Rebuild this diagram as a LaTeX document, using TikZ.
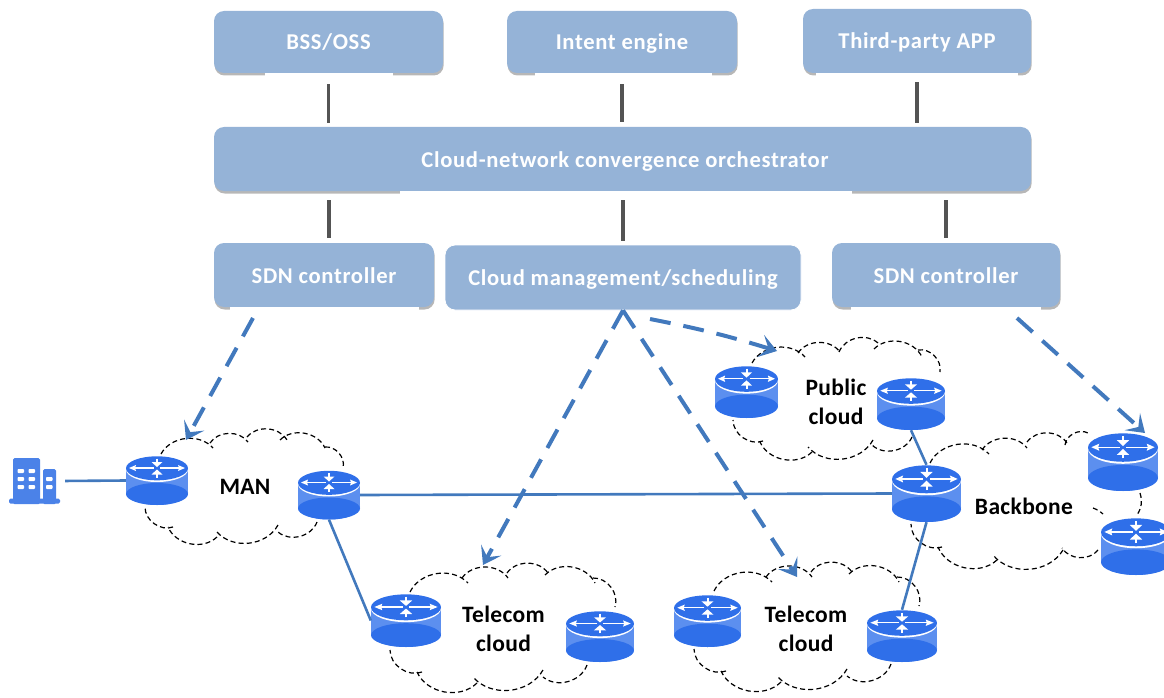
\documentclass[tikz,border=0pt]{standalone}
\usepackage{fontspec}
\newfontfamily\boxfont{Carlito}[LetterSpace=3.0]
\newfontfamily\lblfont{Carlito}[LetterSpace=1.5]
\usetikzlibrary{arrows.meta,shadows,calc}
\definecolor{boxblue}{HTML}{95B3D7}
\definecolor{linkblue}{HTML}{4279BD}
\definecolor{rtop}{HTML}{2F6FE9}
\definecolor{rside}{HTML}{5C8FEF}
\definecolor{bldg}{HTML}{4B82E8}
\tikzset{
  x=1pt,y=-1pt,
  panel/.style={draw=none,fill=boxblue,rounded corners=10pt,text=white,inner sep=0pt,text height=20pt,text depth=4pt,font=\boxfont\bfseries\fontsize{22.6}{24}\selectfont,
     drop shadow={shadow xshift=.6pt,shadow yshift=-2.5pt,opacity=.4,fill=black!70}},
  flatpanel/.style={draw=white,line width=.8pt,fill=boxblue,rounded corners=10pt,text=white,inner sep=0pt,text height=20pt,text depth=4pt,font=\boxfont\bfseries\fontsize{22.6}{24}\selectfont},
  strip/.style={fill=white},
  mgmtlink/.style={draw=black!67,line width=3.6pt},
  netlink/.style={draw=linkblue,line width=2.6pt},
  ctrl/.style={draw=linkblue,line width=4pt,dash pattern=on 21pt off 13pt,-{Stealth[length=17pt,width=23pt,inset=8pt]}},
  cloudline/.style={draw=black,line width=1.2pt,dash pattern=on 5pt off 3.2pt,bend left=#1},
  cloudline/.default=55,
  cloudlabel/.style={inner sep=0pt,align=center,font=\lblfont\bfseries\fontsize{23.5}{29}\selectfont},
  router/.style 2 args={inner sep=0pt,minimum width=#1pt,minimum height=#2pt,path picture={
    \begin{scope}[shift={(path picture bounding box.center)},x={#1/62*1pt},y={-#2/49*1pt}]
      \fill[rside] (-31,-12) rectangle (31,12);
      \fill[rside] (0,12) ellipse[x radius=31,y radius=12.5];
      \fill[rtop] (0,13.5) ellipse[x radius=31,y radius=11];
      \fill[white] (0,-11) ellipse[x radius=31,y radius=12.5];
      \fill[rtop] (0,-12.2) ellipse[x radius=31,y radius=12];
      \draw[white,line width=1.2pt] (-3,-12.5) -- (-25,-12.5);
      \fill[white] (-28,-12.5) -- (-21,-15.5) -- (-22,-12.5) -- (-21,-9.5) -- cycle;
      \draw[white,line width=1.2pt] (3,-12.5) -- (25,-12.5);
      \fill[white] (28,-12.5) -- (21,-15.5) -- (22,-12.5) -- (21,-9.5) -- cycle;
      \draw[white,line width=2pt] (0,-22) -- (0,-17);
      \fill[white] (0,-13.5) -- (-5.5,-18.5) -- (5.5,-18.5) -- cycle;
      \draw[white,line width=2pt] (0,-3) -- (0,-7.5);
      \fill[white] (0,-11) -- (-5.5,-6) -- (5.5,-6) -- cycle;
    \end{scope}}},
  building/.style={inner sep=0pt,minimum width=52pt,minimum height=46pt,path picture={
    \begin{scope}[shift={(path picture bounding box.center)}]
      \fill[bldg,rounded corners=1.5pt] (-22,23) -- (-22,-23) -- (5,-23) -- (5,23) -- cycle;
      \fill[bldg,rounded corners=1.5pt] (8,23) -- (8,-12) -- (21,-12) -- (21,23) -- cycle;
      \fill[bldg,rounded corners=1.5pt] (-26,17.5) rectangle (25,22.5);
      \foreach \cy in {-10,-2,6}{
        \fill[white,rounded corners=.8pt] (-17.5,\cy-2) rectangle (-11,\cy+2);
        \fill[white,rounded corners=.8pt] (-6.5,\cy-2) rectangle (0,\cy+2);
      }
      \foreach \cy in {-2,6}{
        \fill[white,rounded corners=.8pt] (11,\cy-2) rectangle (17.5,\cy+2);
      }
    \end{scope}}},
}
\newcommand{\telecomlobes}{%
  \draw[cloudline] (410,592) to (468,583);
  \draw[cloudline] (462,578) to (508,578);
  \draw[cloudline] (507,573) to (548,573);
  \draw[cloudline] (545,575) to (595,583);
  \draw[cloudline] (593,578) to (615,607);
  \draw[cloudline] (587,665) to (543,677);
  \draw[cloudline] (543,670) to (473,677);
  \draw[cloudline] (477,683) to (417,672);
  \draw[cloudline] (422,672) to (390,650);
}
\begin{document}
\begin{tikzpicture}
\useasboundingbox (0,0) rectangle (1164,698);
\clip (0,0) rectangle (1164,698);
% clouds
\draw[cloudline] (161,454) to (213,448);
\draw[cloudline] (210,443) to (248,442);
\draw[cloudline] (247,437) to (287,440);
\draw[cloudline] (280,440) to (325,448);
\draw[cloudline] (325,447) to (343,468);
\draw[cloudline] (317,522) to (278,532);
\draw[cloudline] (278,525) to (217,532);
\draw[cloudline] (217,537) to (168,527);
\draw[cloudline] (173,527) to (145,507);
\telecomlobes
\begin{scope}[shift={(304,-1)}]\telecomlobes\end{scope}
\draw[cloudline] (752,363) to (805,357);
\draw[cloudline] (798,353) to (840,352);
\draw[cloudline] (839,352) to (878,343);
\draw[cloudline] (874,349) to (922,357);
\draw[cloudline] (918,350) to (940,372);
\draw[cloudline] (912,437) to (872,445);
\draw[cloudline] (873,440) to (808,447);
\draw[cloudline] (812,452) to (760,442);
\draw[cloudline] (763,441) to (733,420);
\draw[cloudline] (930,463) to (989,454);
\draw[cloudline] (982,450) to (1027,448);
\draw[cloudline] (1027,442) to (1067,443);
\draw[cloudline] (1065,445) to (1088,433);
\draw[cloudline=25] (1140,493) to (1137,515);
\draw[cloudline=10] (1093,508) to (1103,514);
\draw[cloudline] (1098,550) to (1062,548);
\draw[cloudline] (1063,550) to (993,555);
\draw[cloudline] (997,560) to (938,547);
\draw[cloudline] (942,547) to (911,524);
% panels
\node[panel,minimum width=229pt,minimum height=62pt] (bss) at (328.5,42) {BSS/OSS};
\node[panel,minimum width=230pt,minimum height=62pt] (intent) at (622,42) {Intent engine};
\node[panel,minimum width=228pt,minimum height=64pt] (third) at (917,41) {Third-party APP};
\node[panel,minimum width=817pt,minimum height=64pt] (orch) at (622.5,159) {\hspace*{5pt}Cloud-network convergence orchestrator};
\node[panel,minimum width=220pt,minimum height=64pt] (sdnl) at (324,275) {SDN controller};
\node[flatpanel,minimum width=356pt,minimum height=65pt] (cloudm) at (623,277.5) {Cloud management/scheduling};
\node[panel,minimum width=228pt,minimum height=64pt] (sdnr) at (946,275) {SDN controller};
\fill[strip] (265,73) rectangle (393,79);
\fill[strip] (535,73) rectangle (712,79);
\fill[strip] (816,73) rectangle (1018,79);
\fill[strip] (400,191) rectangle (852,197);
\fill[strip] (230,307) rectangle (419,313);
\fill[strip] (851,307) rectangle (1041,313);
% management links
\draw[mgmtlink,shorten <=11pt,shorten >=4pt] (bss.south) -- (bss.south |- orch.north);
\draw[mgmtlink,shorten <=11pt,shorten >=5pt] (intent.south) -- (intent.south |- orch.north);
\draw[mgmtlink,shorten <=9pt,shorten >=4pt] (third.south) -- (third.south |- orch.north);
\draw[mgmtlink,shorten <=9pt,shorten >=5pt] ([xshift=5pt]sdnl.north |- orch.south) -- ([xshift=5pt]sdnl.north);
\draw[mgmtlink,shorten <=9pt,shorten >=4pt] (cloudm.north |- orch.south) -- (cloudm.north);
\draw[mgmtlink,shorten <=9pt,shorten >=5pt] (sdnr.north |- orch.south) -- (sdnr.north);
% routers
\node[router={62}{49}] (manl) at (157,480.5) {};
\node[router={62}{49}] (manr) at (329,495) {};
\node[router={70}{53}] (tal) at (406,620.5) {};
\node[router={68}{51}] (tar) at (600,636.5) {};
\node[router={67}{52}] (tbl) at (707.5,621) {};
\node[router={70}{52}] (tbr) at (902,636) {};
\node[router={63}{52}] (publ) at (746.5,392) {};
\node[router={68}{52}] (pubr) at (911,404) {};
\node[router={69}{57}] (bbm) at (926.5,493.5) {};
\node[router={70}{58}] (bbt) at (1123,462) {};
\node[router={70}{57}] (bbb) at (1136,546.5) {};
\node[building] (hq) at (35,481) {};
% network links
\draw[netlink,shorten <=4pt] (hq.east) -- (manl.west);
\draw[netlink] (manr.east) -- (bbm.west);
\draw[netlink] (manr.south) -- (tal.west);
\draw[netlink] (pubr.south) -- (bbm.north);
\draw[netlink] (bbm.south) -- (tbr.north);
% control links
\coordinate (sdnlout) at (253,318);
\coordinate (manin) at (186,440);
\coordinate (taein) at (483,565);
\coordinate (tbein) at (797,577);
\coordinate (cloudout) at (650,319);
\coordinate (pubin) at (777,351);
\coordinate (sdnrout) at (1017,318);
\coordinate (bbin) at (1145,433);
\draw[ctrl] (sdnlout) -- (manin);
\draw[ctrl] (cloudm.south) -- (taein);
\draw[ctrl] (cloudm.south) -- (tbein);
\draw[ctrl] (cloudout) to[bend left=3] (pubin);
\draw[ctrl] (sdnrout) -- (bbin);
% labels
\node[cloudlabel] (lman) at (245,487) {MAN};
\node[cloudlabel] (lta) at (503.5,629) {Telecom\\cloud};
\node[cloudlabel] (ltb) at (806,629) {Telecom\\cloud};
\node[cloudlabel] (lpub) at (836,402) {Public\\cloud};
\node[cloudlabel] (lbb) at (1024,506) {Backbone};
\end{tikzpicture}
\end{document}
